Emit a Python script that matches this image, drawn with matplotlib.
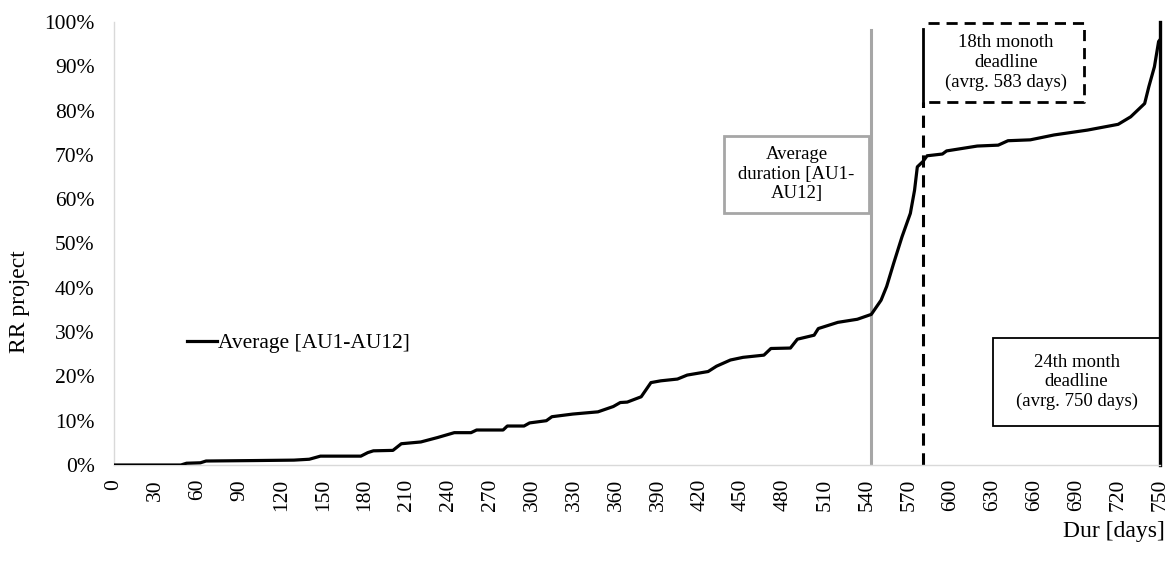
import matplotlib
matplotlib.use('Agg')
import matplotlib.pyplot as plt
from matplotlib.patches import Rectangle
from matplotlib.ticker import PercentFormatter

plt.rcParams['font.family'] = ['Liberation Serif', 'DejaVu Serif']

# Average RR project curve
days = [0, 48, 52, 62, 66, 100, 129, 140, 148, 177, 182, 186, 200, 206, 220, 232, 244,
        256, 260, 279, 282, 294, 298, 310, 314, 329, 347, 358, 363, 368, 378, 385, 392,
        404, 411, 426, 432, 442, 451, 466, 471, 485, 490, 502, 505, 519, 533, 543, 550,
        554, 559, 565, 571, 574, 576, 580, 583, 594, 597, 619, 634, 641, 657, 674, 698,
        720, 729, 739, 742, 746, 749, 750]
rr = [0.0, 0.0, 0.004, 0.005, 0.009, 0.010, 0.011, 0.013, 0.020, 0.020, 0.028, 0.032,
      0.033, 0.048, 0.052, 0.062, 0.073, 0.073, 0.079, 0.079, 0.088, 0.088, 0.095, 0.100,
      0.109, 0.115, 0.120, 0.132, 0.141, 0.142, 0.154, 0.186, 0.190, 0.194, 0.203, 0.211,
      0.223, 0.237, 0.243, 0.248, 0.263, 0.264, 0.284, 0.293, 0.308, 0.322, 0.329, 0.340,
      0.372, 0.403, 0.455, 0.515, 0.568, 0.620, 0.673, 0.685, 0.698, 0.702, 0.709, 0.720,
      0.722, 0.732, 0.734, 0.745, 0.756, 0.769, 0.786, 0.816, 0.854, 0.899, 0.956, 0.960]

avg_duration = 543
deadline_18 = 580
deadline_24 = 750
x_ticks = list(range(0, 751, 30))
y_ticks = [i / 10 for i in range(11)]

fig = plt.figure(figsize=(11.7, 5.63), dpi=100)
ax = fig.add_axes([114 / 1170, 1 - 465 / 563, 1046 / 1170, 443 / 563])

ax.plot(days, rr, color='black', lw=2.3, label='Average [AU1-AU12]', zorder=3)

# vertical reference lines
ax.plot([avg_duration, avg_duration], [0, 0.982], color='#A6A6A6', lw=2.2, zorder=2)
ax.plot([deadline_18, deadline_18], [0, 0.82], color='black', lw=2.2,
        dashes=(4, 2.5), zorder=2)
ax.plot([deadline_18, deadline_18], [0.82, 0.985], color='black', lw=2.0, zorder=2)
ax.plot([deadline_24, deadline_24], [0, 1.0], color='black', lw=2.4, zorder=2,
        clip_on=False)

# callout boxes
box_font = dict(ha='center', va='center', fontsize=13.5, linespacing=1.2)

ax.add_patch(Rectangle((437.4, 0.569), 541.3 - 437.4, 0.743 - 0.569, fill=False,
                       ec='#A6A6A6', lw=2.0, zorder=4))
ax.text((437.4 + 541.3) / 2, (0.569 + 0.743) / 2, 'Average\nduration [AU1-\nAU12]',
        **box_font)

ax.plot([583.6, 695.5, 695.5, 583.6], [0.998, 0.998, 0.819, 0.819], color='black',
        lw=2.0, dashes=(4, 2.5), clip_on=False)
ax.text((583.6 + 695.5) / 2, (0.998 + 0.819) / 2, '18th monoth\ndeadline\n(avrg. 583 days)',
        **box_font)

ax.add_patch(Rectangle((630.3, 0.088), 750 - 630.3, 0.287 - 0.088, fill=False,
                       ec='black', lw=1.3, zorder=4))
ax.text((630.3 + 750) / 2, (0.088 + 0.287) / 2, '24th month\ndeadline\n(avrg. 750 days)',
        **box_font)

ax.set_xlim(0, 750)
ax.set_ylim(0, 1)
ax.set_xticks(x_ticks)
ax.set_xticklabels([str(t) for t in x_ticks], rotation=90, fontsize=15.5)
ax.set_yticks(y_ticks)
ax.yaxis.set_major_formatter(PercentFormatter(1.0, decimals=0))
ax.tick_params(axis='y', labelsize=15.5, length=0, pad=14)
ax.tick_params(axis='x', length=0, pad=10)

for side in ['top', 'right']:
    ax.spines[side].set_visible(False)
for side in ['left', 'bottom']:
    ax.spines[side].set_color('#D9D9D9')
    ax.spines[side].set_linewidth(1.0)

ax.set_ylabel('RR project', fontsize=17)
ax.yaxis.set_label_coords(-0.080, 0.368)
fig.text(1165 / 1170, 1 - 532 / 563, 'Dur [days]', ha='right', va='center', fontsize=17)

ax.legend(loc='center left', bbox_to_anchor=(0.07, 0.275), frameon=False, fontsize=15.5,
          handlelength=1.4, handletextpad=0.05, borderpad=0, borderaxespad=0)

fig.savefig('out.png', dpi=100)
